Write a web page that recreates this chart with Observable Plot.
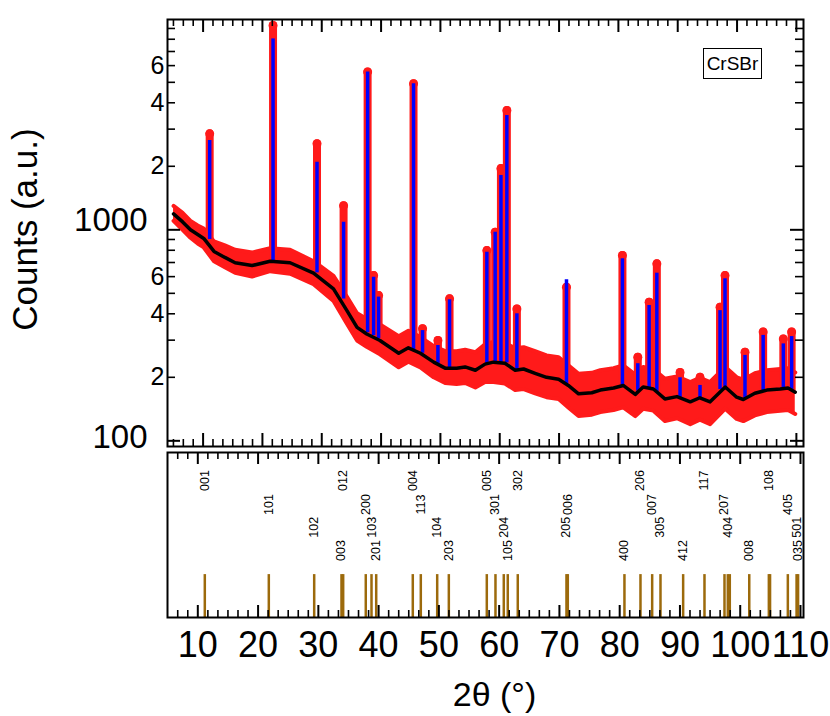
<!DOCTYPE html>
<html><head><meta charset="utf-8">
<script src="https://cdn.jsdelivr.net/npm/d3@7"></script>
<script src="https://cdn.jsdelivr.net/npm/@observablehq/plot@0.6"></script>
<style>
body{margin:0;background:#fff;}
#wrap{position:relative;width:830px;height:716px;font-family:"Liberation Sans",Arial,sans-serif;overflow:hidden;}
#top{position:absolute;left:0;top:0;}
#bot{position:absolute;left:0;top:446px;}
#tag{position:absolute;left:703px;top:48px;width:57px;height:29px;border:1.5px solid #000;font-size:19px;line-height:29px;text-align:center;color:#000;}
</style></head><body>
<div id="wrap"><div id="top"></div><div id="bot"></div><div id="tag">CrSBr</div></div>
<script>
// ---- background (black line) and observed scatter band ----
const bgTheta = [5.02,6.55,7.87,9.09,10.11,11.84,13.67,15.40,18.25,21.30,24.66,28.62,31.98,34.22,35.95,37.58,39.81,42.97,44.60,46.63,48.87,50.80,52.73,54.16,55.89,57.52,58.94,60.87,62.60,64.03,65.96,67.89,69.93,71.56,73.29,75.52,76.95,79.19,80.81,82.85,84.17,85.90,87.84,89.87,92.11,93.73,95.46,98.01,99.94,101.06,103.00,105.03,107.27,108.59,109.81];
const bgCounts = [1190,1090,1000,950,910,790,740,698,677,710,698,623,525,415,345,321,299,260,276,260,236,221,221,224,216,231,236,233,216,219,209,200,196,183,167,169,174,178,183,166,180,176,158,162,153,160,153,180,161,157,168,174,176,178,170];
const bandHigh = [1298,1202,1103,1048,1015,881,844,804,780,818,804,710,605,483,402,378,356,313,332,310,281,266,266,270,263,287,294,290,275,278,266,254,249,228,208,210,216,221,228,206,224,219,197,202,190,199,190,224,200,195,209,216,219,221,211];
const bandLow = [1103,999,917,861,825,709,664,626,601,637,619,553,460,360,299,279,257,223,237,223,200,188,186,188,179,190,190,187,174,176,168,161,158,144,131,133,137,140,144,131,142,139,124,128,120,126,120,142,127,124,132,137,139,140,134];

// ---- Bragg peaks: observed top, calculated top, base ----
const peakTheta = [11.11,21.79,29.20,33.68,37.73,38.74,39.58,45.47,46.99,49.58,51.54,57.83,59.23,60.20,61.20,62.89,71.25,80.68,83.27,85.18,86.48,90.39,93.76,97.13,97.97,101.34,104.40,107.80,109.20];
const peakObs = [2850,9290,2560,1300,5600,607,488,4920,340,299,471,797,974,1950,3680,422,535,756,249,454,690,211,200,430,607,263,328,304,328];
const peakCalc = [2650,8030,2090,1086,5600,596,480,4920,333,283,466,783,974,1810,3480,400,580,729,232,438,623,199,183,414,586,254,316,288,312];
const peakBase = [900,705,625,470,325,315,305,270,260,232,221,230,236,235,234,217,184,182,172,177,170,158,157,175,180,158,172,178,172];

// ---- reflection markers (bottom panel) ----
const hklLabels = ["001","101","102","003","012","200","103","201","004","113","104","203","005","301","204","105","302","205","006","400","206","007","305","412","117","207","404","","008","108","","405","501","035"];
const hklTheta = [11.16,21.78,29.31,33.84,34.12,37.87,38.82,39.60,45.67,47.00,49.72,51.65,57.95,59.39,60.77,61.43,63.09,71.17,71.39,80.79,83.45,85.39,86.77,90.53,94.07,97.39,97.94,98.27,101.50,104.75,104.95,107.90,109.35,109.60];
const hklRow = [1,2,3,4,1,2,3,4,1,2,3,4,1,2,3,4,1,3,2,4,1,2,3,4,1,2,3,0,4,1,0,2,3,4];

// ---- tick labels ----
const xTickLabels = [10,20,30,40,50,60,70,80,90,100,110];
const yMajorTicks = [100,1000];
const yMinorLabelValues = [200,400,600,2000,4000,6000];
const yMinorLabelTexts = ["2","4","6","2","4","6"];
const yMinorTicks = [200,300,400,500,600,700,800,900,2000,3000,4000,5000,6000,7000,8000,9000];

const FONT = "'Liberation Sans', Arial, sans-serif";
const W = 830;
const mL = 167, mR = 27;
const fw = W - mL - mR;

function xMinors(lo, hi) {
  const out = [];
  for (let k = -12; k <= 70; k++) {
    if (k % 6 === 0) continue;
    const v = 10 + k * 10 / 6;
    if (v > lo + 0.2 && v < hi - 0.2) out.push(v);
  }
  return out;
}

// ================= TOP PANEL =================
const topH = 450, tT = 19, tB = 4;
const fhT = topH - tT - tB;
const bgIdx = d3.range(bgTheta.length);
const pkIdx = d3.range(peakTheta.length);
const xDomTop = [4.0, 111.2];
const RED = "#ff1a1a";

const topPlot = Plot.plot({
  width: W, height: topH,
  marginLeft: mL, marginRight: mR, marginTop: tT, marginBottom: tB,
  x: {domain: xDomTop, axis: null},
  y: {type: "log", domain: [94, 9924], axis: null},
  style: {fontFamily: FONT, background: "transparent", overflow: "visible", color: "#000"},
  marks: [
    Plot.areaY(bgIdx, {x: i => bgTheta[i], y1: i => bandLow[i], y2: i => bandHigh[i], fill: RED}),
    Plot.line(bgIdx, {x: i => bgTheta[i], y: i => bandHigh[i], stroke: RED, strokeWidth: 4, strokeLinejoin: "round", strokeLinecap: "round"}),
    Plot.line(bgIdx, {x: i => bgTheta[i], y: i => bandLow[i], stroke: RED, strokeWidth: 4, strokeLinejoin: "round", strokeLinecap: "round"}),
    Plot.ruleX(pkIdx, {x: i => peakTheta[i], y1: i => peakBase[i], y2: i => peakObs[i], stroke: RED, strokeWidth: 8, strokeLinecap: "round"}),
    Plot.dot(pkIdx, {x: i => peakTheta[i], y: i => peakObs[i], r: 4.5, fill: RED}),
    Plot.ruleX(pkIdx, {x: i => peakTheta[i], y1: i => peakBase[i], y2: i => peakCalc[i], stroke: "#0000ff", strokeWidth: 3.5}),
    Plot.line(bgIdx, {x: i => bgTheta[i], y: i => bgCounts[i], stroke: "#000", strokeWidth: 3.5, strokeLinejoin: "round", strokeLinecap: "round"}),
    Plot.frame({stroke: "#000", strokeWidth: 2}),
    // x ticks, inside, top and bottom
    Plot.ruleX(xTickLabels, {x: d => d, insetBottom: fhT - 13, stroke: "#000", strokeWidth: 2}),
    Plot.ruleX(xTickLabels, {x: d => d, insetTop: fhT - 13, stroke: "#000", strokeWidth: 2}),
    Plot.ruleX(xMinors(...xDomTop), {x: d => d, insetBottom: fhT - 7, stroke: "#000", strokeWidth: 1.6}),
    Plot.ruleX(xMinors(...xDomTop), {x: d => d, insetTop: fhT - 7, stroke: "#000", strokeWidth: 1.6}),
    // y ticks, inside, left and right
    Plot.ruleY(yMajorTicks, {y: d => d, insetRight: fw - 13, stroke: "#000", strokeWidth: 2}),
    Plot.ruleY(yMajorTicks, {y: d => d, insetLeft: fw - 13, stroke: "#000", strokeWidth: 2}),
    Plot.ruleY(yMinorTicks, {y: d => d, insetRight: fw - 8, stroke: "#000", strokeWidth: 1.6}),
    Plot.ruleY(yMinorTicks, {y: d => d, insetLeft: fw - 8, stroke: "#000", strokeWidth: 1.6}),
    // y tick labels
    Plot.text([yMajorTicks[1]], {y: d => d, text: d => String(d), frameAnchor: "left", textAnchor: "end", lineAnchor: "middle", dx: -20, dy: -9, fontSize: 33, fill: "#000"}),
    Plot.text([yMajorTicks[0]], {y: d => d, text: d => String(d), frameAnchor: "left", textAnchor: "end", lineAnchor: "middle", dx: -20, dy: -3, fontSize: 33, fill: "#000"}),
    Plot.text(d3.range(yMinorLabelValues.length), {y: i => yMinorLabelValues[i], text: i => yMinorLabelTexts[i], frameAnchor: "left", textAnchor: "end", lineAnchor: "middle", dx: -3, fontSize: 25, fill: "#000"}),
    // y axis title
    Plot.text(["Counts (a.u.)"], {frameAnchor: "left", textAnchor: "middle", lineAnchor: "middle", rotate: -90, dx: -142, dy: -3.5, fontSize: 35, fill: "#000"})
  ]
});
document.getElementById("top").appendChild(topPlot);

// ================= BOTTOM PANEL =================
const botH = 270, bT = 6, bB = 99;
const fhB = botH - bT - bB;
const xDomBot = [4.97, 110.5];
const rowY = {1: 0.830, 2: 0.685, 3: 0.547, 4: 0.406};
const hklIdx = d3.range(hklTheta.length);
const hklLabIdx = hklIdx.filter(i => hklLabels[i] !== "");

const botPlot = Plot.plot({
  width: W, height: botH,
  marginLeft: mL, marginRight: mR, marginTop: bT, marginBottom: bB,
  x: {domain: xDomBot, axis: null},
  y: {domain: [0, 1], axis: null},
  style: {fontFamily: FONT, background: "transparent", overflow: "visible", color: "#000"},
  marks: [
    Plot.ruleX(hklIdx, {x: i => hklTheta[i], y1: 0, y2: 0.26, stroke: "#9c6a0c", strokeWidth: 2.5}),
    Plot.text(hklLabIdx, {x: i => hklTheta[i], y: i => rowY[hklRow[i]], text: i => hklLabels[i], rotate: -90, textAnchor: "middle", lineAnchor: "middle", fontSize: 12.5, fill: "#000"}),
    Plot.frame({stroke: "#000", strokeWidth: 2}),
    Plot.ruleX(xTickLabels, {x: d => d, insetBottom: fhB - 12, stroke: "#000", strokeWidth: 2}),
    Plot.ruleX(xTickLabels, {x: d => d, insetTop: fhB - 12, stroke: "#000", strokeWidth: 2}),
    Plot.ruleX(xMinors(...xDomBot), {x: d => d, insetBottom: fhB - 7, stroke: "#000", strokeWidth: 1.6}),
    Plot.ruleX(xMinors(...xDomBot), {x: d => d, insetTop: fhB - 7, stroke: "#000", strokeWidth: 1.6}),
    Plot.text(xTickLabels, {x: d => d, text: d => String(d), frameAnchor: "bottom", textAnchor: "middle", lineAnchor: "middle", dy: 27.5, fontSize: 36, fill: "#000"}),
    Plot.text(["2θ (°)"], {frameAnchor: "bottom", textAnchor: "middle", lineAnchor: "middle", dx: 9, dy: 78, fontSize: 34, fill: "#000"})
  ]
});
document.getElementById("bot").appendChild(botPlot);
</script>
</body></html>
